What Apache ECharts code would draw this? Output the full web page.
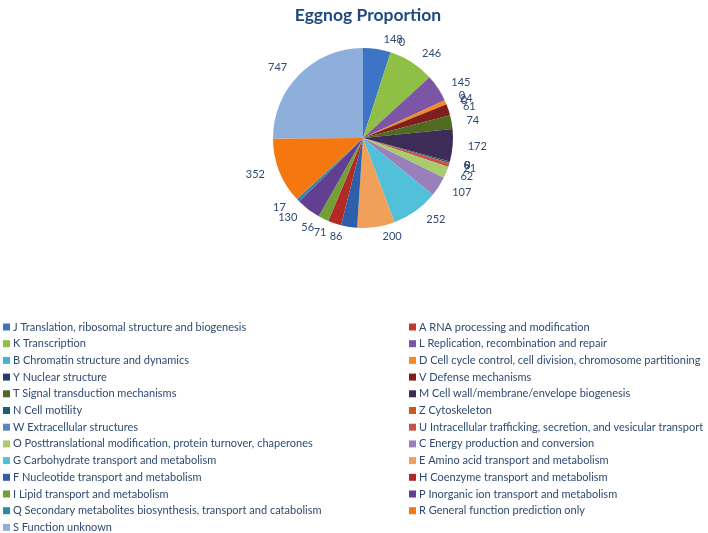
<!DOCTYPE html>
<html>
<head>
<meta charset="utf-8">
<script src="https://cdn.jsdelivr.net/npm/echarts@6/dist/echarts.min.js"></script>
<style>
  html, body { margin: 0; padding: 0; background: #fff; }
  #main { width: 708px; height: 533px; }
</style>
</head>
<body>
<div id="main"></div>
<script>
// categories, in slice order (clockwise from 12 o'clock)
const categories = [
  'J Translation, ribosomal structure and biogenesis',
  'A RNA processing and modification',
  'K Transcription',
  'L Replication, recombination and repair',
  'B Chromatin structure and dynamics',
  'D Cell cycle control, cell division, chromosome partitioning',
  'Y Nuclear structure',
  'V Defense mechanisms',
  'T Signal transduction mechanisms',
  'M Cell wall/membrane/envelope biogenesis',
  'N Cell motility',
  'Z Cytoskeleton',
  'W Extracellular structures',
  'U Intracellular trafficking, secretion, and vesicular transport',
  'O Posttranslational modification, protein turnover, chaperones',
  'C Energy production and conversion',
  'G Carbohydrate transport and metabolism',
  'E Amino acid transport and metabolism',
  'F Nucleotide transport and metabolism',
  'H Coenzyme transport and metabolism',
  'I Lipid transport and metabolism',
  'P Inorganic ion transport and metabolism',
  'Q Secondary metabolites biosynthesis, transport and catabolism',
  'R General function prediction only',
  'S Function unknown'
]
const counts = [148, 0, 246, 145, 0, 24, 0, 61, 74, 172, 9, 0, 0, 21, 62, 107, 252, 200, 86, 71, 56, 130, 17, 352, 747]
const colors = [
  '#3d74c6', '#c0392f', '#8fbf45', '#7d55a6', '#48b2cc', '#f58a23', '#1f3f70', '#7e1f1e',
  '#4f6b22', '#3d2c58', '#1f6070', '#cc5a10', '#5a86c4', '#c9514c', '#a9cc6c', '#9a80bb',
  '#52c0d8', '#f0a058', '#2e5fab', '#b22a26', '#73a036', '#633f92', '#2e8aa2', '#f5770f', '#8eaedb'
]

const leftNames = categories.filter((v, i) => i % 2 === 0)
const rightNames = categories.filter((v, i) => i % 2 === 1)

const textColor = '#2f4a72'
const legendBase = {
  orient: 'vertical',
  top: 321,
  height: 260,
  padding: 0,
  itemWidth: 7,
  itemHeight: 7,
  itemGap: 4.7,
  icon: 'rect',
  selectedMode: false,
  textStyle: { fontFamily: 'Lato', fontSize: 11, color: textColor, lineHeight: 12, padding: [0, 0, 0, -2] }
}

const myChart = echarts.init(document.getElementById('main'))
const option = {
  color: colors,
  animation: false,
  title: {
    text: 'Eggnog Proportion',
    left: 363,
    textAlign: 'center',
    top: 1,
    textStyle: { fontFamily: 'Lato', fontSize: 17.5, fontWeight: 'bold', color: '#1f497d' }
  },
  legend: [
    Object.assign({}, legendBase, { left: 3, data: leftNames }),
    Object.assign({}, legendBase, { left: 409, data: rightNames })
  ],
  series: [
    {
      type: 'pie',
      center: [363, 138],
      radius: 90,
      startAngle: 90,
      clockwise: true,
      avoidLabelOverlap: false,
      labelLayout: { hideOverlap: false },
      data: categories.map((name, i) => ({ name: name, value: counts[i] })),
      label: {
        show: true,
        position: 'outside',
        formatter: '{c}',
        fontFamily: 'Lato',
        fontSize: 11,
        color: textColor
      },
      labelLine: { show: false, length: 10, length2: 0 },
      itemStyle: { borderWidth: 0 },
      emphasis: { disabled: true }
    }
  ]
}
myChart.setOption(option)
</script>
</body>
</html>
